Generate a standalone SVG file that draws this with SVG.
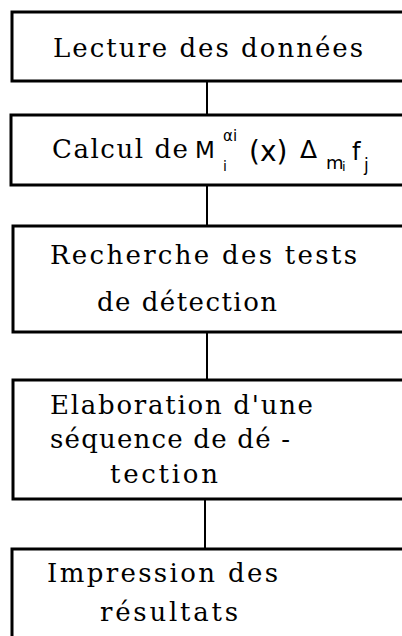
<svg xmlns="http://www.w3.org/2000/svg" width="402" height="636" viewBox="0 0 402 636">
<style>
.box{fill:none;stroke:#000;stroke-width:3}
.conn{stroke:#000;stroke-width:2;fill:none}
.t{font-family:"DejaVu Serif","Liberation Serif",serif;font-size:26px;fill:#000}
.m{font-family:"DejaVu Sans","Liberation Sans",sans-serif;fill:#000}
</style>
<rect width="402" height="636" fill="#fff"/>
<g id="connectors">
<line class="conn" x1="207" y1="81" x2="207" y2="115"/>
<line class="conn" x1="207" y1="185" x2="207" y2="226"/>
<line class="conn" x1="207" y1="332" x2="207" y2="380"/>
<line class="conn" x1="205" y1="499" x2="205" y2="549"/>
</g>
<g id="n1">
<path class="box" d="M410 12 H12 V81 H410"/>
<text class="t" x="53" y="57" textLength="310" lengthAdjust="spacing">Lecture des données</text>
</g>
<g id="n2">
<path class="box" d="M410 115 H11 V185 H410"/>
<text class="t" x="52" y="158" textLength="136" lengthAdjust="spacing">Calcul de</text>
<text class="m" x="195" y="158" font-size="23">M</text>
<text class="m" x="223" y="141" font-size="15">αi</text>
<text class="m" x="223" y="171" font-size="14">i</text>
<text class="m" x="249" y="161" font-size="28">(x)</text>
<text class="m" x="300" y="158" font-size="25">Δ</text>
<text class="m" x="326" y="169" font-size="18">m</text>
<text class="m" x="342" y="171" font-size="13">i</text>
<text class="m" x="352" y="160" font-size="24">f</text>
<text class="m" x="364" y="171" font-size="17">j</text>
</g>
<g id="n3">
<path class="box" d="M410 226 H13 V332 H410"/>
<text class="t" x="50" y="264" textLength="307" lengthAdjust="spacing">Recherche des tests</text>
<text class="t" x="97" y="311" textLength="180" lengthAdjust="spacing">de détection</text>
</g>
<g id="n4">
<path class="box" d="M410 380 H13 V499 H410"/>
<text class="t" x="50" y="414" textLength="263" lengthAdjust="spacing">Elaboration d'une</text>
<text class="t" x="50" y="448" textLength="240" lengthAdjust="spacing">séquence de dé -</text>
<text class="t" x="110" y="483" textLength="108" lengthAdjust="spacing">tection</text>
</g>
<g id="n5">
<path class="box" d="M410 549 H12 V640"/>
<text class="t" x="47" y="582" textLength="231" lengthAdjust="spacing">Impression des</text>
<text class="t" x="100" y="621" textLength="138" lengthAdjust="spacing">résultats</text>
</g>
</svg>
